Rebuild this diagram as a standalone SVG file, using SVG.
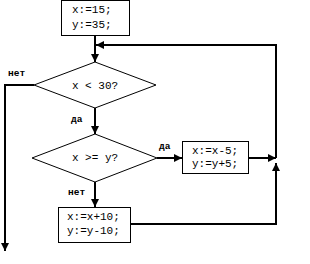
<svg xmlns="http://www.w3.org/2000/svg" width="310" height="264" viewBox="0 0 310 264">
<defs>
<marker id="ah" viewBox="0 0 10 10" refX="10" refY="5" markerWidth="4" markerHeight="4" orient="auto" markerUnits="strokeWidth">
<path d="M0,0 L10,5 L0,10 z" fill="#000"/>
</marker>
<style>
.box{fill:#fff;stroke:#000;stroke-width:1}
.t{font-family:"Liberation Mono",monospace;font-size:11px;fill:#000}
.l{font-family:"Liberation Mono",monospace;font-size:9.5px;font-weight:bold;fill:#000}
.c{fill:none;stroke:#000;stroke-width:2}
</style>
</defs>
<rect width="310" height="264" fill="#fff"/>
<g id="connectors">
<path class="c" d="M95,35 V62" marker-end="url(#ah)"/>
<path class="c" d="M276,158 V45 H96" marker-end="url(#ah)"/>
<path class="c" d="M34,85 H5 V251" marker-end="url(#ah)"/>
<path class="c" d="M95,108 V134" marker-end="url(#ah)"/>
<path class="c" d="M95,182 V207" marker-end="url(#ah)"/>
<path class="c" d="M157,158 H182" marker-end="url(#ah)"/>
<path class="c" d="M249,158 H276" marker-end="url(#ah)"/>
<path class="c" d="M130,224 H276 V163" marker-end="url(#ah)"/>
<text class="l" x="8" y="76">нет</text>
<text class="l" x="71" y="122">да</text>
<text class="l" x="68" y="195">нет</text>
<text class="l" x="159" y="149">да</text>
</g>
<g id="start">
<rect class="box" x="61.5" y="0.5" width="68" height="35"/>
<text class="t" x="72" y="13">x:=15;</text>
<text class="t" x="72" y="28">y:=35;</text>
</g>
<g id="cond1">
<polygon class="box" points="95,62 156,85 95,108 34,85"/>
<text class="t" x="95" y="89" text-anchor="middle">x &lt; 30?</text>
</g>
<g id="cond2">
<polygon class="box" points="95,134 157,158 95,182 32,158"/>
<text class="t" x="95" y="161" text-anchor="middle">x &gt;= y?</text>
</g>
<g id="dec">
<rect class="box" x="182.5" y="141.5" width="66" height="32"/>
<text class="t" x="192" y="154">x:=x-5;</text>
<text class="t" x="192" y="167">y:=y+5;</text>
</g>
<g id="inc">
<rect class="box" x="58.5" y="207.5" width="72" height="35"/>
<text class="t" x="67" y="220">x:=x+10;</text>
<text class="t" x="67" y="234">y:=y-10;</text>
</g>
</svg>
